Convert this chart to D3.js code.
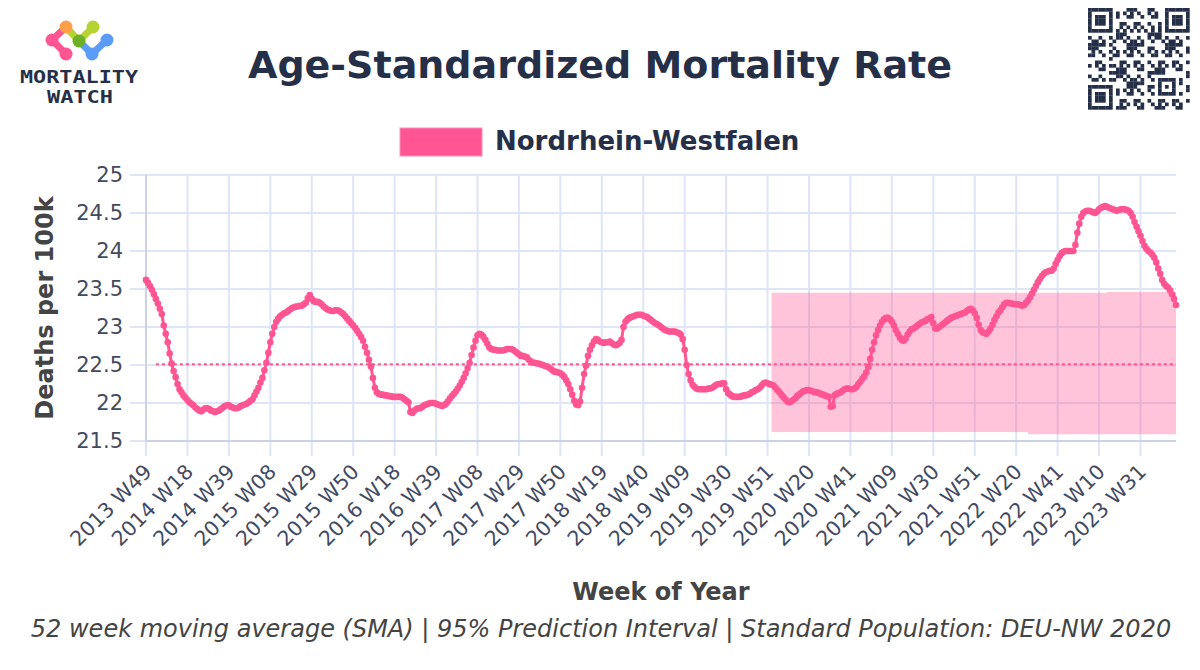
<!DOCTYPE html>
<html>
<head>
<meta charset="utf-8">
<script src="https://cdn.jsdelivr.net/npm/d3@7"></script>
<style>
  html, body { margin: 0; padding: 0; background: #fff; }
  svg { display: block; font-family: "DejaVu Sans", sans-serif; }
</style>
</head>
<body>
<svg id="chart"></svg>
<script>
// weekly series, 52 week SMA, first week 2013 W49
const startYear = 2013;
const startWeek = 49;
const longYears = [2015, 2020];

const asmr = [
  23.62,23.58,23.54,23.49,23.43,23.37,23.31,23.24,23.17,23.02,
  22.91,22.80,22.65,22.52,22.42,22.34,22.25,22.18,22.14,22.10,
  22.07,22.04,22.01,21.99,21.97,21.94,21.92,21.90,21.89,21.91,
  21.93,21.93,21.92,21.90,21.89,21.88,21.89,21.90,21.92,21.94,
  21.96,21.97,21.97,21.95,21.94,21.93,21.93,21.94,21.96,21.97,
  21.98,21.99,22.01,22.03,22.05,22.10,22.15,22.20,22.27,22.33,
  22.43,22.53,22.66,22.80,22.91,23.00,23.07,23.11,23.14,23.16,
  23.18,23.19,23.21,23.23,23.25,23.26,23.27,23.27,23.28,23.28,
  23.30,23.32,23.38,23.42,23.37,23.34,23.33,23.33,23.32,23.30,
  23.27,23.25,23.23,23.22,23.21,23.21,23.22,23.22,23.21,23.19,
  23.17,23.14,23.11,23.08,23.05,23.02,22.99,22.95,22.91,22.87,
  22.82,22.74,22.66,22.57,22.48,22.33,22.20,22.14,22.12,22.11,
  22.11,22.10,22.10,22.09,22.09,22.08,22.08,22.08,22.08,22.08,
  22.07,22.05,22.03,22.01,21.88,21.87,21.90,21.92,21.93,21.93,
  21.95,21.97,21.98,21.99,22.00,22.00,22.00,21.99,21.98,21.97,
  21.96,21.97,21.99,22.02,22.06,22.09,22.12,22.15,22.19,22.23,
  22.28,22.33,22.39,22.46,22.53,22.63,22.73,22.82,22.89,22.91,
  22.90,22.87,22.83,22.78,22.73,22.71,22.70,22.70,22.69,22.69,
  22.69,22.69,22.70,22.71,22.71,22.71,22.70,22.68,22.66,22.64,
  22.62,22.62,22.61,22.60,22.57,22.55,22.53,22.53,22.52,22.52,
  22.51,22.50,22.49,22.48,22.47,22.45,22.43,22.41,22.41,22.40,
  22.39,22.37,22.34,22.30,22.25,22.18,22.11,22.03,21.98,21.97,
  22.02,22.20,22.38,22.49,22.62,22.70,22.76,22.81,22.84,22.83,
  22.81,22.80,22.79,22.80,22.80,22.81,22.79,22.77,22.76,22.77,
  22.79,22.83,23.00,23.07,23.10,23.12,23.13,23.14,23.15,23.16,
  23.16,23.16,23.15,23.14,23.13,23.11,23.09,23.07,23.05,23.04,
  23.02,23.00,22.98,22.96,22.95,22.94,22.94,22.94,22.94,22.93,
  22.92,22.90,22.84,22.70,22.50,22.38,22.30,22.24,22.21,22.19,
  22.18,22.18,22.18,22.18,22.18,22.19,22.19,22.20,22.22,22.24,
  22.25,22.25,22.26,22.26,22.18,22.13,22.11,22.09,22.08,22.08,
  22.08,22.08,22.09,22.10,22.10,22.11,22.12,22.14,22.15,22.17,
  22.18,22.20,22.23,22.26,22.27,22.26,22.25,22.24,22.23,22.20,
  22.17,22.14,22.11,22.08,22.05,22.02,22.01,22.02,22.04,22.06,
  22.09,22.11,22.13,22.15,22.16,22.17,22.17,22.16,22.15,22.14,
  22.14,22.13,22.12,22.11,22.10,22.09,22.08,21.95,21.96,22.10,
  22.12,22.13,22.14,22.16,22.18,22.19,22.19,22.18,22.18,22.19,
  22.21,22.25,22.28,22.32,22.35,22.40,22.47,22.58,22.70,22.80,
  22.89,22.96,23.02,23.07,23.10,23.12,23.12,23.10,23.07,23.02,
  22.96,22.91,22.86,22.83,22.82,22.85,22.90,22.94,22.97,22.98,
  23.00,23.02,23.04,23.06,23.07,23.08,23.10,23.11,23.13,23.05,
  22.98,22.98,23.00,23.02,23.04,23.06,23.08,23.10,23.12,23.13,
  23.14,23.15,23.16,23.17,23.18,23.19,23.21,23.23,23.24,23.22,
  23.18,23.12,23.03,22.96,22.93,22.92,22.91,22.94,22.98,23.03,
  23.09,23.14,23.19,23.22,23.26,23.30,23.32,23.32,23.31,23.31,
  23.30,23.30,23.30,23.29,23.28,23.29,23.32,23.35,23.39,23.44,
  23.49,23.54,23.59,23.63,23.67,23.70,23.72,23.73,23.74,23.74,
  23.77,23.83,23.88,23.93,23.97,23.99,24.00,24.00,24.00,24.00,
  24.00,24.08,24.24,24.36,24.45,24.50,24.52,24.53,24.53,24.52,
  24.51,24.50,24.52,24.55,24.57,24.58,24.59,24.58,24.57,24.56,
  24.55,24.54,24.53,24.54,24.55,24.55,24.55,24.54,24.53,24.50,
  24.45,24.38,24.32,24.26,24.20,24.13,24.07,24.03,24.00,23.98,
  23.95,23.91,23.85,23.77,23.70,23.62,23.57,23.54,23.52,23.48,
  23.43,23.37,23.29
];

const tickLabels = [
  "2013 W49","2014 W18","2014 W39","2015 W08","2015 W29","2015 W50",
  "2016 W18","2016 W39","2017 W08","2017 W29","2017 W50","2018 W19",
  "2018 W40","2019 W09","2019 W30","2019 W51","2020 W20","2020 W41",
  "2021 W09","2021 W30","2021 W51","2022 W20","2022 W41","2023 W10","2023 W31"
];
const yTicks = [21.5, 22, 22.5, 23, 23.5, 24, 24.5, 25];

const baseline = 22.51;
const baselineFrom = "2014 W02";

// 95% prediction interval, piecewise
const piFrom = ["2020 W01", "2022 W26", "2023 W14"];
const piLow = [21.62, 21.59, 21.59];
const piHigh = [23.45, 23.45, 23.46];

const seriesName = "Nordrhein-Westfalen";
const pink = "#ff5592";

// week categories
const weeks = [];
let yr = startYear, wk = startWeek;
for (let i = 0; i < asmr.length; i++) {
  weeks.push(yr + " W" + String(wk).padStart(2, "0"));
  wk++;
  if (wk > (longYears.includes(yr) ? 53 : 52)) { wk = 1; yr++; }
}

const width = 1200, height = 670;
const pL = 146, pR = 1176, pT = 175, pB = 441;

const svg = d3.select("#chart").attr("width", width).attr("height", height);

const x = d3.scalePoint().domain(weeks).range([pL, pR]).padding(0);
const y = d3.scaleLinear().domain([21.5, 25]).range([pB, pT]);

// grid
const grid = svg.append("g").attr("stroke", "#dfe5f8").attr("stroke-width", 2);
grid.selectAll("line.h").data(yTicks).join("line").attr("class", "h")
  .attr("x1", pL - 16).attr("x2", pR)
  .attr("y1", d => y(d)).attr("y2", d => y(d));
grid.selectAll("line.v").data(tickLabels).join("line").attr("class", "v")
  .attr("x1", d => x(d)).attr("x2", d => x(d))
  .attr("y1", pT).attr("y2", pB + 15);

// axis lines
svg.append("line").attr("x1", pL).attr("x2", pL).attr("y1", pT).attr("y2", pB)
  .attr("stroke", "#ccd2e4").attr("stroke-width", 2);
svg.append("line").attr("x1", pL).attr("x2", pR).attr("y1", pB).attr("y2", pB)
  .attr("stroke", "#ccd2e4").attr("stroke-width", 2);

// prediction interval band
const piIdx = piFrom.map(w => weeks.indexOf(w));
const bandData = weeks.slice(piIdx[0]).map((w, j) => {
  const i = piIdx[0] + j;
  let s = 0;
  piIdx.forEach((p, k) => { if (i >= p) s = k; });
  return { w, lo: piLow[s], hi: piHigh[s] };
});
svg.append("path")
  .datum(bandData)
  .attr("fill", pink).attr("fill-opacity", 0.35)
  .attr("d", d3.area().curve(d3.curveStepAfter)
    .x(d => x(d.w)).y0(d => y(d.lo)).y1(d => y(d.hi)));

// baseline
svg.append("line")
  .attr("x1", x(baselineFrom)).attr("x2", pR)
  .attr("y1", y(baseline)).attr("y2", y(baseline))
  .attr("stroke", pink).attr("stroke-width", 2).attr("stroke-dasharray", "3,3");

// series
const pts = weeks.map((w, i) => ({ w, v: asmr[i] }));
svg.append("path").datum(pts)
  .attr("fill", "none").attr("stroke", pink).attr("stroke-width", 3)
  .attr("stroke-linejoin", "round")
  .attr("d", d3.line().x(d => x(d.w)).y(d => y(d.v)));
svg.append("g").attr("fill", pink)
  .selectAll("circle").data(pts).join("circle")
  .attr("cx", d => x(d.w)).attr("cy", d => y(d.v)).attr("r", 3.3);

// y tick labels
svg.append("g").selectAll("text").data(yTicks).join("text")
  .attr("x", pL - 23).attr("y", d => y(d)).attr("dy", "0.35em")
  .attr("text-anchor", "end").attr("font-size", 21).attr("fill", "#434a5f")
  .text(d => d);

// x tick labels
svg.append("g").selectAll("text").data(tickLabels).join("text")
  .attr("transform", d => `translate(${x(d) + 2},${pB + 27}) rotate(-45)`)
  .attr("dy", "0.35em")
  .attr("text-anchor", "end").attr("font-size", 20.5).attr("fill", "#434a5f")
  .text(d => d);

// axis titles
svg.append("text")
  .attr("transform", `translate(53,${(pT + pB) / 2}) rotate(-90)`)
  .attr("text-anchor", "middle").attr("font-size", 24).attr("font-weight", "bold")
  .attr("fill", "#444").text("Deaths per 100k");
svg.append("text")
  .attr("x", (pL + pR) / 2).attr("y", 600)
  .attr("text-anchor", "middle").attr("font-size", 24).attr("font-weight", "bold")
  .attr("fill", "#444").text("Week of Year");

// title
svg.append("text")
  .attr("x", 600).attr("y", 78).attr("text-anchor", "middle")
  .attr("font-size", 38).attr("font-weight", "bold").attr("fill", "#253048")
  .text("Age-Standardized Mortality Rate");

// legend
svg.append("rect").attr("x", 400).attr("y", 128).attr("width", 82).attr("height", 28)
  .attr("fill", pink).attr("stroke", "#ff8fb5").attr("stroke-width", 1);
svg.append("text").attr("x", 495).attr("y", 150)
  .attr("font-size", 26).attr("font-weight", "bold").attr("fill", "#253048")
  .text(seriesName);

// footer
svg.append("text").attr("x", 601).attr("y", 637).attr("text-anchor", "middle")
  .attr("font-size", 24).attr("font-style", "italic").attr("fill", "#444")
  .text("52 week moving average (SMA) | 95% Prediction Interval | Standard Population: DEU-NW 2020");

// logo
const logo = svg.append("g").attr("stroke-linecap", "round");
const nodes = {
  o: [66, 27, "#ff9f4a"], p1: [52, 40, pink], p2: [66, 54, pink],
  g: [79, 41, "#6cb026"], l: [93, 27, "#b6d334"],
  b1: [92, 54, "#5b9cf6"], b2: [107, 40, "#5b9cf6"]
};
const edges = [["o", "p1", pink], ["p1", "p2", pink], ["o", "g", "#b6d334"],
  ["g", "l", "#b6d334"], ["g", "b1", "#5b9cf6"], ["b1", "b2", "#5b9cf6"]];
logo.selectAll("line").data(edges).join("line")
  .attr("x1", d => nodes[d[0]][0]).attr("y1", d => nodes[d[0]][1])
  .attr("x2", d => nodes[d[1]][0]).attr("y2", d => nodes[d[1]][1])
  .attr("stroke", d => d[2]).attr("stroke-width", 7);
logo.selectAll("circle").data(Object.values(nodes)).join("circle")
  .attr("cx", d => d[0]).attr("cy", d => d[1]).attr("r", 6.5).attr("fill", d => d[2]);
svg.append("text").attr("x", 20).attr("y", 83)
  .attr("font-family", "DejaVu Sans Mono").attr("font-weight", "bold")
  .attr("font-size", 17).attr("fill", "#253048")
  .attr("textLength", 118).attr("lengthAdjust", "spacingAndGlyphs").text("MORTALITY");
svg.append("text").attr("x", 47).attr("y", 103)
  .attr("font-family", "DejaVu Sans Mono").attr("font-weight", "bold")
  .attr("font-size", 17).attr("fill", "#253048")
  .attr("textLength", 66).attr("lengthAdjust", "spacingAndGlyphs").text("WATCH");

// qr code (decorative)
const qrN = 29, qrM = 3.5, qrX = 1088, qrY = 8;
const qrCells = [];
function finder(r0, c0) {
  for (let r = 0; r < 7; r++) for (let c = 0; c < 7; c++) {
    const edge = r === 0 || r === 6 || c === 0 || c === 6;
    const core = r >= 2 && r <= 4 && c >= 2 && c <= 4;
    if (edge || core) qrCells.push([r0 + r, c0 + c]);
  }
}
finder(0, 0); finder(0, qrN - 7); finder(qrN - 7, 0);
for (let r = 20; r <= 24; r++) for (let c = 20; c <= 24; c++) {
  if (r === 20 || r === 24 || c === 20 || c === 24 || (r === 22 && c === 22)) qrCells.push([r, c]);
}
for (let k = 8; k < qrN - 8; k += 2) { qrCells.push([6, k]); qrCells.push([k, 6]); }
for (let r = 0; r < qrN; r++) for (let c = 0; c < qrN; c++) {
  const inFinder = (r < 8 && c < 8) || (r < 8 && c > qrN - 9) || (r > qrN - 9 && c < 8);
  const inAlign = r >= 19 && r <= 25 && c >= 19 && c <= 25;
  if (inFinder || inAlign || r === 6 || c === 6) continue;
  if (((r * 7 + c * 13 + r * c * 3) % 11) < 5) qrCells.push([r, c]);
}
svg.append("g").attr("fill", "#253048")
  .selectAll("rect").data(qrCells).join("rect")
  .attr("x", d => qrX + d[1] * qrM).attr("y", d => qrY + d[0] * qrM)
  .attr("width", qrM + 0.2).attr("height", qrM + 0.2);
</script>
</body>
</html>
